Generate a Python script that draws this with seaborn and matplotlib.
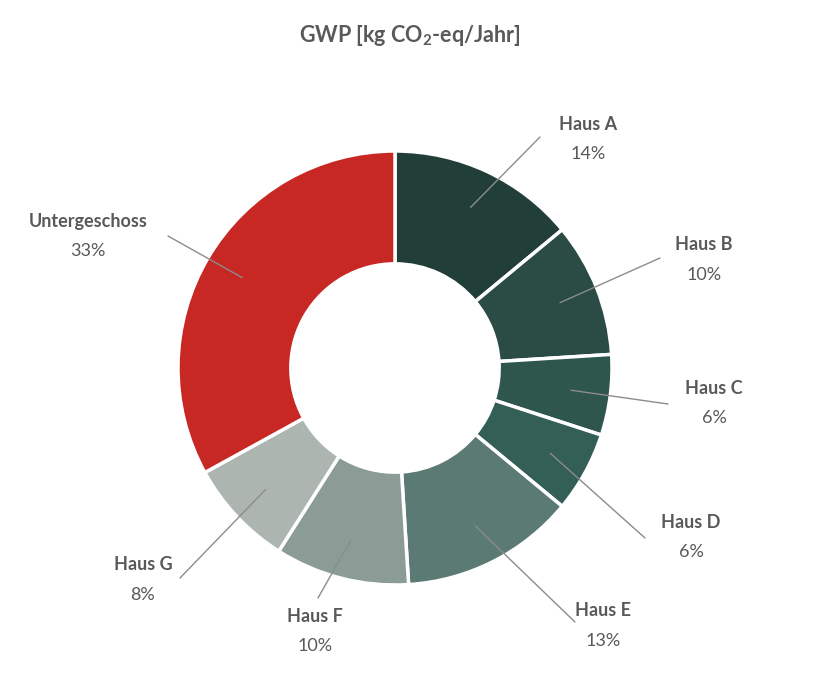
import numpy as np
import matplotlib
matplotlib.use("Agg")
import matplotlib.pyplot as plt
import seaborn as sns

sns.set_theme(style="white")
plt.rcParams['font.family'] = ['Lato', 'DejaVu Sans']
plt.rcParams['mathtext.fontset'] = 'custom'
plt.rcParams['mathtext.rm'] = 'Lato'
plt.rcParams['mathtext.bf'] = 'Lato:bold'

categories = ["Haus A", "Haus B", "Haus C", "Haus D", "Haus E", "Haus F", "Haus G", "Untergeschoss"]
values = [14, 10, 6, 6, 13, 10, 8, 33]
colors = ["#213F38", "#2A4C45", "#2E564D", "#335F56", "#5A7A73", "#8B9C97", "#ADB5B1", "#C82823"]
# label text centres (pixels from top-left)
label_pos = [(588, 124), (704, 245), (714, 388), (691, 522), (603, 611), (315, 616), (143, 565), (88, 221)]
line_end = [(540, 137), (660, 258), (668, 404), (645, 538), (575, 622), (318, 598), (180, 578), (168, 236)]

W, H = 820, 687
fig = plt.figure(figsize=(8.2, 6.87), dpi=100)
ax = fig.add_axes([0, 0, 1, 1])
ax.set_xlim(0, W); ax.set_ylim(0, H); ax.axis("off")

cx, cy, R = 395, H - 368, 217
width = 0.52 * R
wedges, _ = ax.pie(values, colors=colors, startangle=90, counterclock=False,
                   center=(cx, cy), radius=R,
                   wedgeprops=dict(width=width, edgecolor="white", linewidth=2.5))
ax.set_xlim(0, W); ax.set_ylim(0, H); ax.set_aspect("auto")

gray = "#595959"
for w, name, v, (lx, ly), (ex, ey) in zip(wedges, categories, values, label_pos, line_end):
    ang = np.deg2rad((w.theta1 + w.theta2) / 2)
    r = R - width * 0.35
    sx, sy = cx + r * np.cos(ang), cy + r * np.sin(ang)
    ax.plot([sx, ex], [sy, H - ey], color="#8c8c8c", lw=1)
    ax.text(lx, H - ly, name, ha="center", va="center", fontsize=13, fontweight="bold", color=gray)
    ax.text(lx, H - ly - 30, f"{v}%", ha="center", va="center", fontsize=13, color=gray)

ax.text(W / 2, H - 35, r"GWP [kg CO$_\mathbf{2}$-eq/Jahr]", ha="center", va="center",
        fontsize=15.5, fontweight="bold", color=gray)
fig.savefig("out.png", dpi=100)
